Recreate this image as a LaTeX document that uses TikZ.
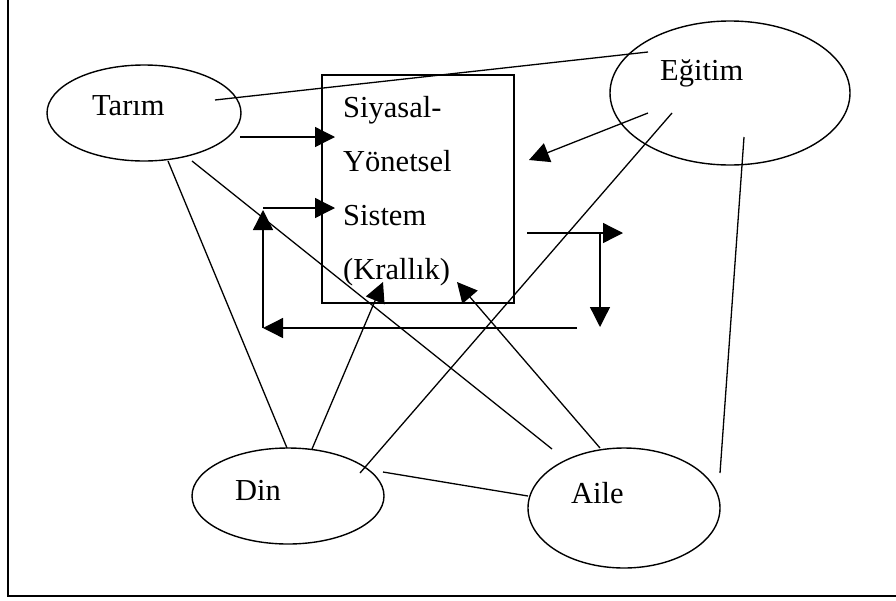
\documentclass[tikz,border=0pt]{standalone}
\usepackage{fontspec}
\setmainfont{Liberation Serif}
\usepackage{tikz}
\usetikzlibrary{arrows.meta,shapes.geometric,calc}
\tikzstyle{arrow} = [line width=1.3pt,-{Triangle[length=20pt,width=20pt]}]
\tikzstyle{link} = [line width=1.3pt]
\tikzstyle{sector} = [ellipse, draw, line width=1.4pt, inner sep=0pt]
\tikzstyle{lbl} = [inner sep=0pt, anchor=base west, font=\fontsize{30.5}{36}\selectfont]

\begin{document}
\begin{tikzpicture}[x=1pt,y=-1pt]
\useasboundingbox (0,0) rectangle (896,600);
% Frame
\draw[line width=1.5pt] (8,0) -- (8,596) -- (896,596);

% Sectors
\node[sector, minimum width=194pt, minimum height=96pt] (tarim) at (144,113) {};
\node[sector, minimum width=240pt, minimum height=144pt] (egitim) at (730,93) {};
\node[sector, minimum width=192pt, minimum height=96pt] (din) at (288,496) {};
\node[sector, minimum width=192pt, minimum height=120pt] (aile) at (624,508) {};
\node[lbl] (tarimtxt) at (92,115) {Tarım};
\node[lbl] (egitimtxt) at (660,80) {Eğitim};
\node[lbl] (dintxt) at (235,500) {Din};
\node[lbl] (ailetxt) at (571,503) {Aile};

% Political system box
\node[draw, line width=1.3pt, minimum width=192pt, minimum height=228pt, inner sep=0pt] (sys) at (418,189) {};
\foreach \t [count=\i] in {Siyasal-, Yönetsel, Sistem, (Krallık)}
  \node[lbl] (sys\i) at (343,{117+54.3*(\i-1)}) {\t};

% Links between sectors
\draw[link] ($(tarim)+(71,-13)$) -- ($(egitim)+(-82,-41)$);
\draw[link] ($(tarim)+(24,48)$) -- ($(din)+(-1,-48)$);
\draw[link] ($(tarim)+(48,48)$) -- ($(aile)+(-72,-59)$);
\draw[link] ($(din)+(72,-23)$) -- ($(egitim)+(-58,20)$);
\draw[link] ($(din)+(95,-24)$) -- ($(aile)+(-96,-12)$);
\draw[link] ($(aile)+(96,-35)$) -- ($(egitim)+(14,44)$);

% Inputs to the system
\draw[arrow] ($(tarim)+(96,24)$) -- ($(sys)+(-83,-52)$);
\draw[arrow] ($(egitim)+(-82,20)$) -- ($(sys)+(111,-29)$);
\draw[arrow] ($(din)+(24,-47)$) -- ($(sys)+(-35,93)$);
\draw[arrow] ($(aile)+(-24,-60)$) -- ($(sys)+(39,93)$);

% Feedback loop
\coordinate (out) at ($(sys)+(109,44)$);
\coordinate (outtip) at ($(sys)+(205,44)$);
\coordinate (down) at ($(sys)+(182,44)$);
\coordinate (downtip) at ($(sys)+(182,138)$);
\coordinate (back) at ($(sys)+(159,139)$);
\coordinate (corner) at ($(sys)+(-155,139)$);
\coordinate (up) at ($(sys)+(-155,21)$);
\coordinate (in) at ($(sys)+(-155,19)$);
\coordinate (intip) at ($(sys)+(-83,19)$);
\draw[arrow] (out) -- (outtip);
\draw[arrow] (down) -- (downtip);
\draw[arrow] (back) -- (corner);
\draw[arrow] (corner) -- (up);
\draw[arrow] (in) -- (intip);
\end{tikzpicture}
\end{document}
